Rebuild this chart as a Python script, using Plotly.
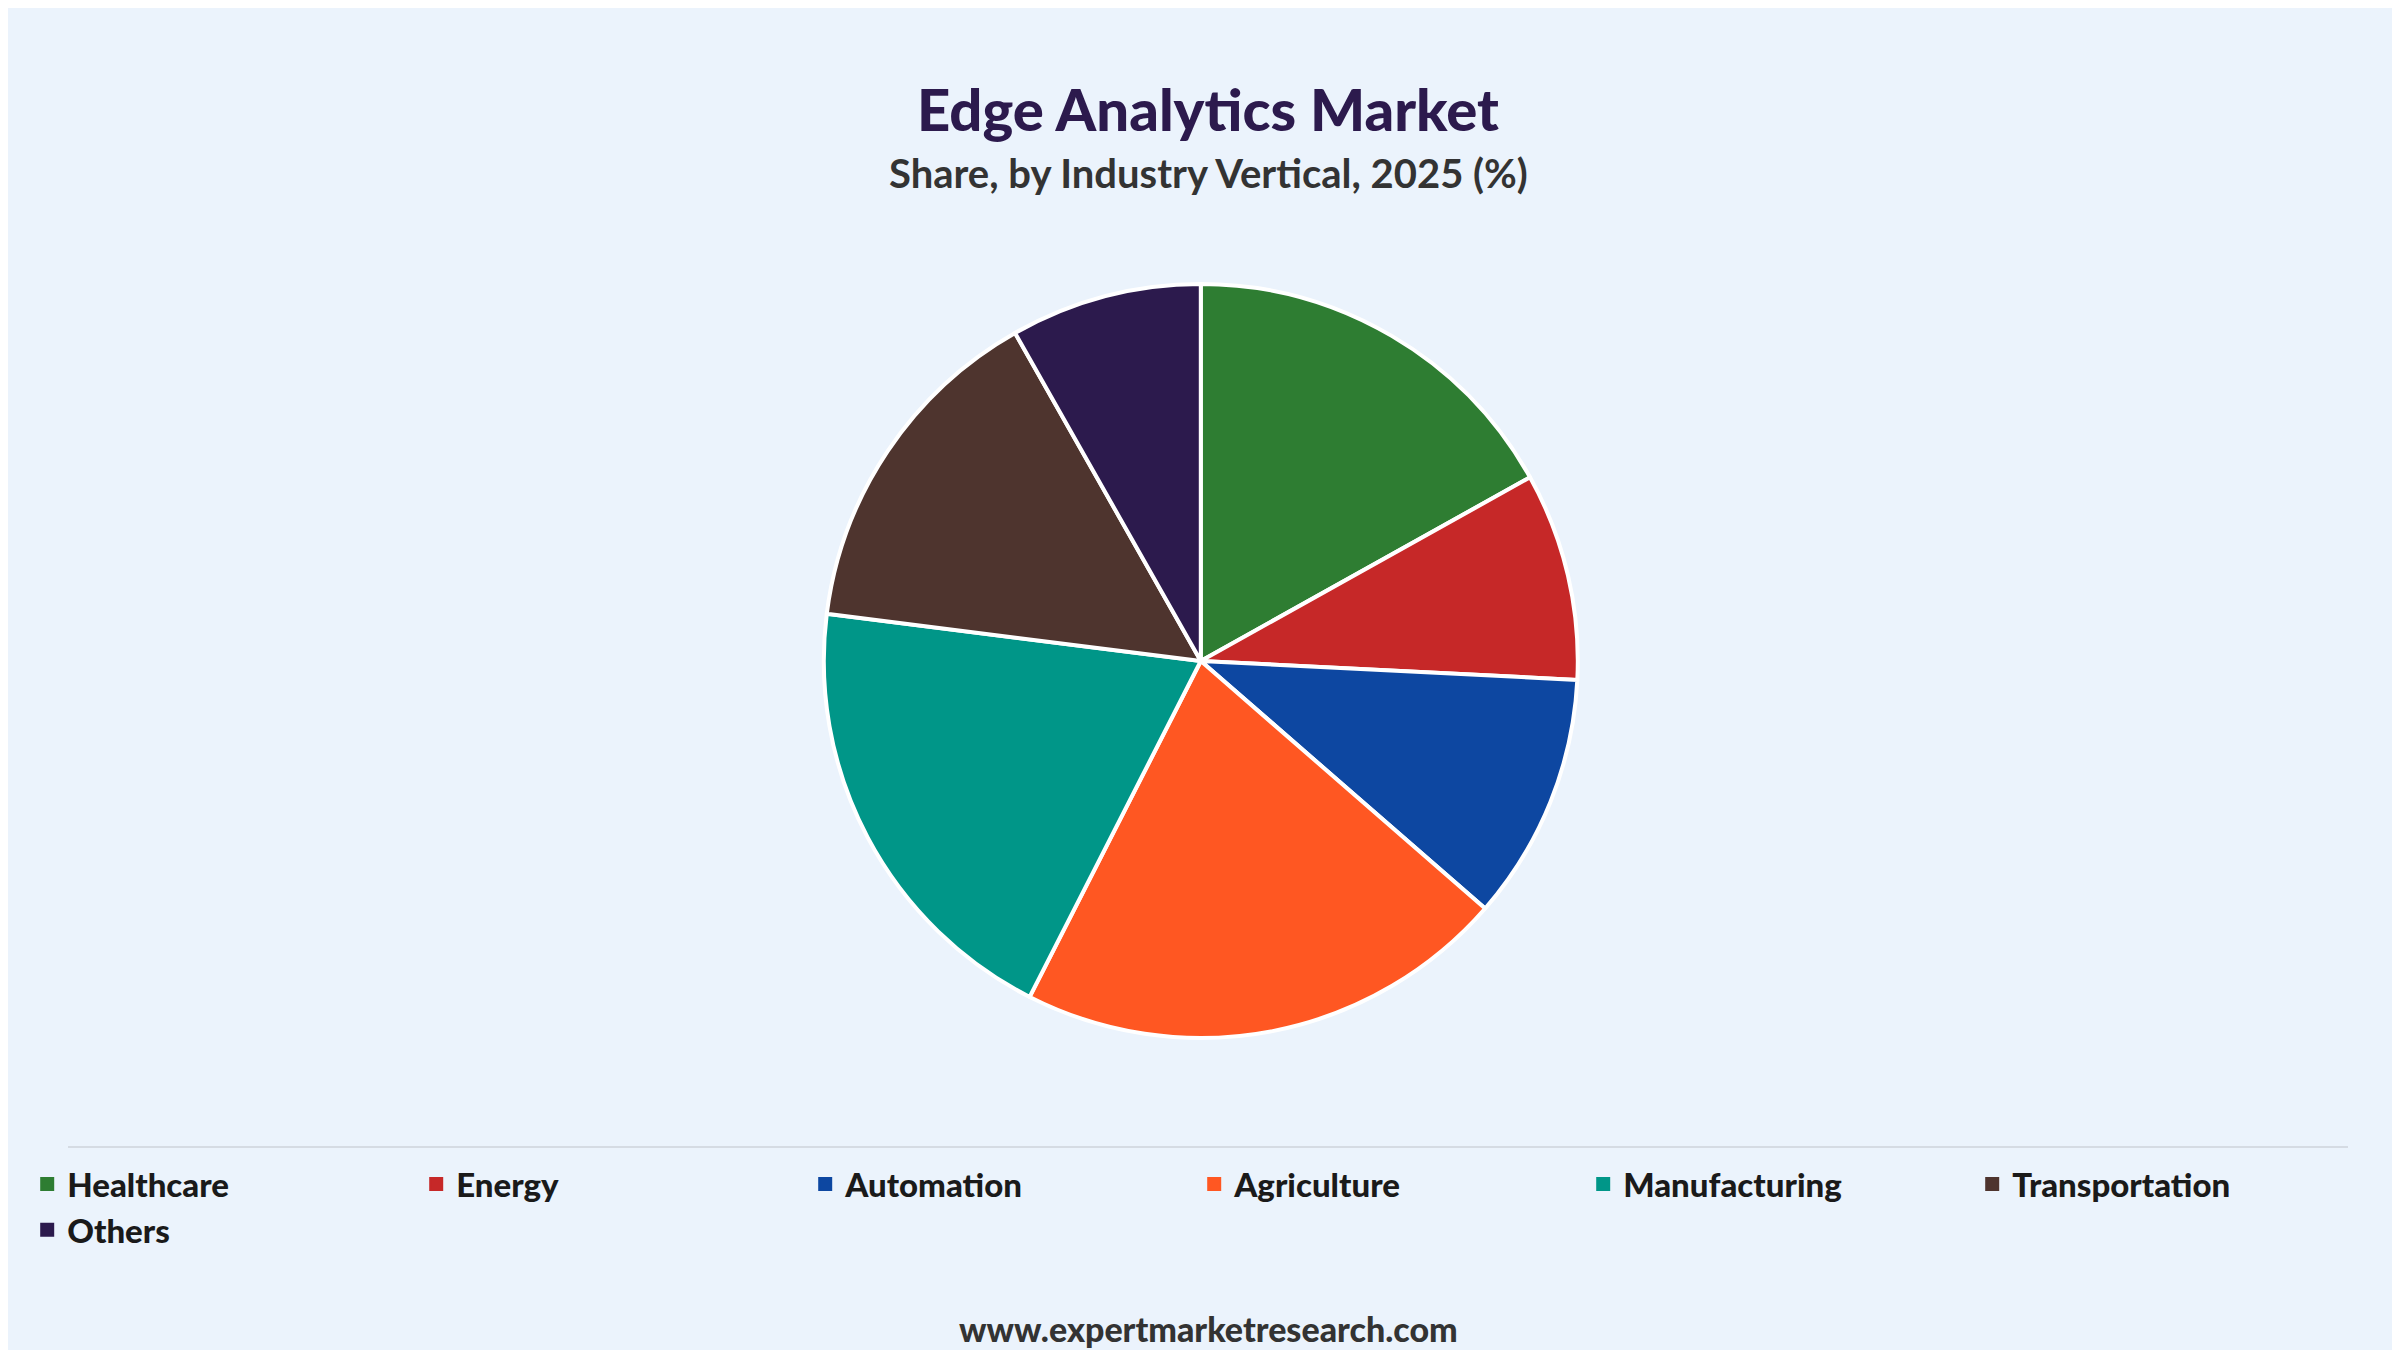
import plotly.graph_objects as go

categories = ["Healthcare", "Energy", "Automation", "Agriculture", "Manufacturing", "Transportation", "Others"]
shares = [16.9, 8.9, 10.6, 21.1, 19.5, 14.8, 8.2]
colors = ["#2E7D32", "#C62828", "#0D47A1", "#FF5722", "#009688", "#4E342E", "#2C1A4D"]

W, H = 2400, 1350
fig = go.Figure(go.Pie(
    labels=categories, values=shares, sort=False, direction="clockwise", rotation=0,
    marker=dict(colors=colors, line=dict(color="white", width=4)),
    textinfo="none", hoverinfo="label+percent", showlegend=False,
    domain=dict(x=[0, 0.994], y=[1 - 1030 / H, 1 - 276 / H]),
))
for c, col in zip(categories, colors):
    fig.add_trace(go.Scatter(x=[None], y=[None], mode="markers", name=c,
                             marker=dict(symbol="square", size=32, color=col,
                                         line=dict(color=col, width=2))))
fig.update_xaxes(visible=False)
fig.update_yaxes(visible=False)
fig.update_layout(
    width=W, height=H, margin=dict(l=0, r=0, t=0, b=0),
    paper_bgcolor="#EBF3FC", plot_bgcolor="#EBF3FC",
    font=dict(family="Lato, Open Sans, sans-serif"),
    showlegend=True,
    legend=dict(orientation="h", x=0.008, xanchor="left", y=1 - 1148 / H, yanchor="top",
                entrywidth=344, entrywidthmode="pixels",
                font=dict(size=33, color="#1a1a1a", family="Lato", weight=900),
                itemsizing="constant", bgcolor="rgba(0,0,0,0)", tracegroupgap=0),
    shapes=[dict(type="line", xref="paper", yref="paper", x0=60 / W, x1=2340 / W,
                 y0=1 - 1139 / H, y1=1 - 1139 / H, line=dict(color="#d5dbe3", width=2))],
    annotations=[
        dict(text="Edge Analytics Market", x=0.5, y=1 - 100 / H, xref="paper", yref="paper",
             yanchor="middle", showarrow=False,
             font=dict(size=58, color="#2C1A4D", family="Lato", weight=900)),
        dict(text="Share, by Industry Vertical, 2025 (%)", x=0.5, y=1 - 165 / H, xref="paper", yref="paper",
             yanchor="middle", showarrow=False,
             font=dict(size=40, color="#333333", family="Lato", weight="bold")),
        dict(text="www.expertmarketresearch.com", x=0.5, y=1 - 1320 / H, xref="paper", yref="paper",
             yanchor="middle", showarrow=False,
             font=dict(size=34, color="#333333", family="Lato", weight=900)),
    ],
)
fig.write_html("out.html")
